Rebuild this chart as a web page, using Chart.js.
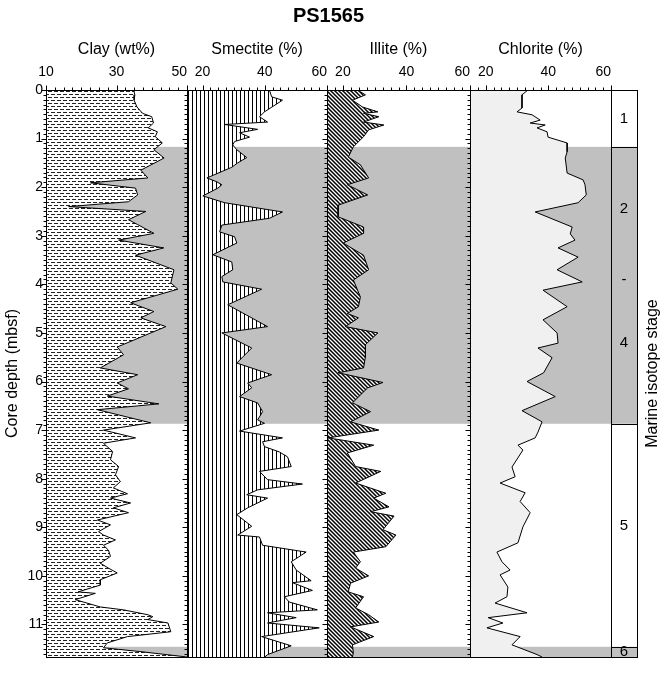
<!DOCTYPE html>
<html>
<head>
<meta charset="utf-8">
<title>PS1565</title>
<script src="https://cdn.jsdelivr.net/npm/chart.js"></script>
<style>
  body { margin: 0; background: #fff; }
  canvas { display: block; }
</style>
</head>
<body>
<canvas id="coreChart" width="670" height="685"></canvas>
<script>
// depth in mbsf
const depthMax = 11.67;

const clayDepth = [0, 0.1, 0.21, 0.35, 0.48, 0.55, 0.68, 0.78, 0.86, 0.96, 1.09, 1.23, 1.4, 1.65, 1.81, 1.91, 2.02, 2.16, 2.3, 2.4,
  2.5, 2.67, 2.77, 2.95, 3.09, 3.25, 3.4, 3.7, 3.97, 4.1, 4.38, 4.56, 4.69, 4.87, 5.29, 5.45, 5.72, 5.86, 6.03, 6.15,
  6.3, 6.46, 6.58, 6.85, 7.0, 7.16, 7.27, 7.44, 7.61, 7.75, 7.92, 8.06, 8.19, 8.31, 8.4, 8.5, 8.6, 8.7, 8.85, 8.95,
  9.09, 9.16, 9.26, 9.37, 9.47, 9.6, 9.74, 9.84, 9.94, 10.08, 10.19, 10.33, 10.36, 10.49, 10.64, 10.7, 10.8, 10.84, 10.9, 10.97,
  11.15, 11.25, 11.38, 11.48, 11.56, 11.67];
const clayPct = [34.9, 35.2, 35, 35.8, 37.4, 40, 40.5, 39, 41.6, 41, 43, 40.6, 43.5, 36.9, 38.9, 22.6, 35.4, 36, 33.4, 16.4,
  38.3, 33.4, 36, 40.6, 30.6, 43.4, 35.4, 46.3, 45.4, 47.4, 34, 40.6, 36.9, 44, 30.2, 32, 25.4, 36, 30.2, 33.4,
  27.4, 42, 24.6, 39.7, 26.3, 35.4, 26.3, 28.9, 28.3, 30.6, 29.7, 31.1, 29.1, 33.1, 28.3, 34, 29.1, 33.4, 24.6, 28.3,
  24.9, 26.3, 29.7, 26.3, 27.7, 28.3, 25.4, 27.7, 30.2, 25.4, 25.4, 19.1, 24, 18.3, 25.4, 32, 38.9, 40.3, 38.9, 44.6,
  45.4, 33.1, 27.4, 26.3, 36.9, 50];

const smecDepth = [0, 0.14, 0.21, 0.45, 0.55, 0.66, 0.71, 0.81, 0.88, 0.97, 1.06, 1.13, 1.23, 1.39, 1.5, 1.59, 1.81, 1.89, 1.95, 2.02,
  2.18, 2.32, 2.51, 2.64, 2.78, 2.92, 3.02, 3.15, 3.39, 3.54, 3.7, 3.84, 3.95, 4.1, 4.42, 4.87, 5.0, 5.31, 5.62, 5.86,
  6.03, 6.13, 6.31, 6.44, 6.62, 6.79, 6.86, 7.02, 7.16, 7.24, 7.34, 7.45, 7.55, 7.75, 7.85, 8.02, 8.11, 8.23, 8.33, 8.4,
  8.6, 8.74, 8.98, 9.16, 9.2, 9.37, 9.51, 9.71, 9.88, 10.1, 10.14, 10.3, 10.43, 10.54, 10.7, 10.76, 10.86, 10.97, 11.07, 11.25,
  11.44, 11.62, 11.67];
const smecPct = [41.5, 42.2, 45.7, 39.9, 38.3, 40.9, 27.1, 37.7, 31.9, 35.1, 30.3, 29.7, 31, 34.2, 31.3, 29.4, 21.4, 24.6, 26.2, 24.9,
  20.1, 27.1, 45.7, 41.5, 26.2, 25.5, 30.3, 31, 23.3, 29.4, 29.7, 26.2, 26.5, 39, 28.1, 40.9, 26.2, 35.8, 31, 42.2,
  34.5, 35.8, 31.9, 37.7, 39.3, 37.7, 39.9, 31.9, 45.7, 39.3, 39.9, 44.7, 47.3, 48.5, 38.3, 40.9, 52.1, 37.7, 34.2, 40.9,
  34.5, 31, 35.8, 31.3, 38.3, 39.3, 53.3, 48.5, 50.1, 54.9, 48.9, 55.3, 46.3, 47.9, 56.9, 40.9, 50.1, 40.9, 57.5, 39,
  48.5, 40.9, 40];

const illiteDepth = [0, 0.1, 0.21, 0.35, 0.45, 0.48, 0.55, 0.66, 0.72, 0.82, 0.96, 1.17, 1.38, 1.54, 1.81, 1.95, 2.16, 2.37, 2.61, 2.82,
  2.95, 3.15, 3.4, 3.7, 3.91, 4.26, 4.46, 4.6, 4.69, 4.87, 5.0, 5.24, 5.49, 5.72, 5.82, 6.02, 6.13, 6.44, 6.62, 6.83,
  7.0, 7.16, 7.31, 7.47, 7.75, 7.85, 8.09, 8.3, 8.4, 8.58, 8.68, 8.77, 9.05, 9.16, 9.4, 9.51, 9.71, 9.84, 10.0, 10.15,
  10.33, 10.43, 10.66, 10.8, 10.95, 11.05, 11.25, 11.42, 11.58, 11.67];
const illitePct = [24.6, 27.1, 23, 26.2, 31, 26.5, 31.3, 26.5, 32.9, 28.1, 26.5, 23.3, 21.7, 25.5, 28.1, 21.4, 27.8, 18.5, 18.5, 26.5,
  26.5, 20.1, 26.5, 28.1, 23.3, 25.5, 24.9, 21.4, 24.9, 20.8, 31, 27.1, 27.1, 26.5, 18.5, 32.6, 27.8, 23, 28.7, 22.4,
  31.3, 15.3, 29.7, 21.4, 24, 31.9, 24, 33.5, 29.7, 34.5, 28.7, 36.1, 32.6, 36.7, 33.5, 23.3, 25.5, 24, 28.1, 22.4,
  21.7, 26.5, 24, 28.1, 31.3, 22.4, 29.7, 23, 23.3, 23];

const chlDepth = [0, 0.1, 0.37, 0.45, 0.51, 0.62, 0.68, 0.72, 0.78, 0.86, 0.97, 1.09, 1.27, 1.4, 1.71, 1.85, 1.95, 2.16, 2.32, 2.51,
  2.82, 2.96, 3.09, 3.25, 3.44, 3.7, 3.95, 4.12, 4.46, 4.73, 5.0, 5.21, 5.31, 5.51, 5.82, 6.0, 6.31, 6.6, 6.83, 7.04,
  7.16, 7.31, 7.41, 7.76, 7.96, 8.09, 8.29, 8.47, 8.7, 8.99, 9.32, 9.51, 9.71, 9.88, 9.98, 10.23, 10.43, 10.56, 10.76, 10.86,
  10.97, 11.07, 11.25, 11.42, 11.62, 11.67];
const chlPct = [33.5, 31.6, 31.6, 30, 34.8, 37.4, 34.2, 39, 36.4, 39.6, 39.9, 46, 46, 45.4, 46, 51.1, 51.7, 52.1, 49.5, 35.8,
  47.6, 47, 48.5, 43.1, 49.5, 42.8, 50.8, 38.3, 46, 38.3, 42.8, 43.1, 36.7, 41.2, 38.5, 33.2, 42.2, 31.6, 38, 36.7,
  35.8, 30.3, 31.9, 28.4, 29.4, 24.6, 32.6, 31, 34.2, 31.9, 30.3, 23.6, 25.2, 27.8, 24.6, 27.1, 26.8, 23, 33.2, 20.8,
  25.5, 20.4, 31, 28.4, 36.4, 38];

const depthTicks = [0, 1, 2, 3, 4, 5, 6, 7, 8, 9, 10, 11];
const clayTicks = [10, 30, 50];
const mineralTicks = [20, 40, 60];

const stageNames = ['1', '2', '-', '4', '5', '6'];
const stageNameDepth = [0.585, 2.45, 3.9, 5.2, 8.97, 11.56];
const stageBounds = [1.17, 6.87, 11.46];
const grayBands = [[1.17, 6.87], [11.46, 11.67]];

const FONT = "'Liberation Sans', Arial, Helvetica, sans-serif";
const canvas = document.getElementById('coreChart');
const ctx = canvas.getContext('2d');

function makePattern(w, h, draw) {
  const c = document.createElement('canvas');
  c.width = w;
  c.height = h;
  const g = c.getContext('2d');
  g.fillStyle = '#fff';
  g.fillRect(0, 0, w, h);
  draw(g);
  return ctx.createPattern(c, 'repeat');
}

// clay: staggered dashes
const clayFill = makePattern(6, 6, g => {
  g.fillStyle = '#222';
  g.fillRect(0, 1, 4, 1);
  g.fillRect(3, 4, 3, 1);
  g.fillRect(0, 4, 1, 1);
});
// smectite: vertical lines
const smecFill = makePattern(4, 4, g => {
  g.fillStyle = '#000';
  g.fillRect(0, 0, 1, 4);
});
// illite: diagonal hatch
const illiteFill = makePattern(4, 4, g => {
  g.strokeStyle = '#000';
  g.lineWidth = 1.5;
  g.beginPath();
  g.moveTo(-1, -1); g.lineTo(5, 5);
  g.moveTo(-1, 3); g.lineTo(1, 5);
  g.moveTo(3, -1); g.lineTo(5, 1);
  g.stroke();
});

function toPoints(depths, values) {
  return depths.map((d, i) => ({ x: values[i], y: d }));
}

// fill from the curve back to the left edge (axis minimum) of its panel
function curve(depths, values, axisId, axisMin, fill) {
  return {
    data: toPoints(depths, values),
    xAxisID: axisId,
    yAxisID: 'y',
    borderColor: '#000',
    borderWidth: 1,
    pointRadius: 0,
    tension: 0,
    fill: { value: axisMin },
    backgroundColor: fill
  };
}

function panelAxis(min, max, weight, tickVals, title) {
  return {
    type: 'linear',
    position: 'top',
    stack: 'panels',
    stackWeight: weight,
    min: min,
    max: max,
    // a blank tick at the panel's left edge takes the 'inner' left alignment,
    // so only the last label is pushed inside the panel
    afterBuildTicks: s => {
      s.ticks = [{ value: min }].concat(tickVals.map(v => ({ value: v })));
    },
    ticks: {
      display: tickVals.length > 0,
      font: { family: FONT, size: 14 },
      color: '#000',
      padding: 4,
      align: 'inner',
      maxRotation: 0,
      autoSkip: false,
      callback: (v, i) => (i === 0 ? '' : String(v))
    },
    grid: { display: false, drawTicks: true, tickLength: 5 },
    border: { display: false },
    title: {
      display: !!title,
      text: title || '',
      font: { family: FONT, size: 16 },
      color: '#000',
      padding: { top: 2, bottom: 0 }
    },
    afterFit: s => { s.height = 52; }
  };
}

const panelIds = ['xClay', 'xSmec', 'xIllite', 'xChl'];

const framePlugin = {
  id: 'coreFrame',
  beforeDatasetsDraw(chart) {
    const { ctx: c, chartArea: a, scales } = chart;
    c.save();
    c.fillStyle = '#c0c0c0';
    grayBands.forEach(b => {
      const t = scales.y.getPixelForValue(b[0]);
      const btm = scales.y.getPixelForValue(b[1]);
      c.fillRect(a.left, t, a.right - a.left, btm - t);
    });
    c.restore();
  },
  afterDatasetsDraw(chart) {
    const { ctx: c, chartArea: a, scales } = chart;
    const y = scales.y;
    const top = Math.round(a.top) + 0.5;
    const bottom = Math.round(a.bottom) + 0.5;
    c.save();
    c.strokeStyle = '#000';
    c.lineWidth = 1;

    // panel frames
    panelIds.concat(['xStage']).forEach(id => {
      const s = scales[id];
      const l = Math.round(s.left) + 0.5;
      const r = Math.round(s.right) + 0.5;
      c.strokeRect(l, top, r - l, bottom - top);
    });

    // stage boundaries
    const st = scales.xStage;
    c.beginPath();
    stageBounds.forEach(d => {
      const py = Math.round(y.getPixelForValue(d)) + 0.5;
      c.moveTo(st.left, py);
      c.lineTo(st.right, py);
    });
    c.stroke();

    // depth ticks on the left side of every panel
    c.beginPath();
    panelIds.forEach(id => {
      const px = Math.round(scales[id].left) + 0.5;
      for (let i = 0; i <= Math.floor(depthMax * 10); i++) {
        const py = Math.round(y.getPixelForValue(i / 10)) + 0.5;
        const len = i % 10 === 0 ? 5 : 3;
        c.moveTo(px - len, py);
        c.lineTo(px, py);
      }
    });
    // top ticks, minor every 2.5
    panelIds.forEach(id => {
      const s = scales[id];
      const major = id === 'xClay' ? clayTicks : mineralTicks;
      for (let v = s.min; v <= s.max + 1e-6; v += 2.5) {
        const px = Math.round(s.getPixelForValue(v)) + 0.5;
        const len = major.includes(v) ? 5 : 3;
        c.moveTo(px, top - len);
        c.lineTo(px, top);
      }
    });
    c.stroke();

    // stage numbers
    c.fillStyle = '#000';
    c.textAlign = 'center';
    c.textBaseline = 'middle';
    c.font = '15px ' + FONT;
    const sx = (st.left + st.right) / 2;
    stageNames.forEach((n, i) => {
      c.fillText(n, sx, y.getPixelForValue(stageNameDepth[i]));
    });

    // right title
    c.font = '16px ' + FONT;
    c.translate(653, (a.top + a.bottom) / 2);
    c.rotate(-Math.PI / 2);
    c.fillText('Marine isotope stage', 0, 0);
    c.setTransform(1, 0, 0, 1, 0, 0);

    // main title
    c.font = 'bold 20px ' + FONT;
    c.fillText('PS1565', (scales.xClay.left + scales.xChl.right) / 2, 16);
    c.restore();
  }
};

new Chart(ctx, {
  type: 'line',
  data: {
    datasets: [
      curve(clayDepth, clayPct, 'xClay', 10, clayFill),
      curve(smecDepth, smecPct, 'xSmec', 15, smecFill),
      curve(illiteDepth, illitePct, 'xIllite', 15, illiteFill),
      curve(chlDepth, chlPct, 'xChl', 15, '#f0f0f0')
    ]
  },
  options: {
    responsive: false,
    animation: false,
    indexAxis: 'y',
    events: [],
    layout: { padding: { top: 38, right: 33, bottom: 28, left: 0 } },
    plugins: {
      legend: { display: false },
      tooltip: { enabled: false },
      title: { display: false }
    },
    scales: {
      y: {
        type: 'linear',
        reverse: true,
        min: 0,
        max: depthMax,
        afterBuildTicks: s => { s.ticks = depthTicks.map(v => ({ value: v })); },
        ticks: { font: { family: FONT, size: 14 }, color: '#000', padding: 0, callback: v => String(v) },
        grid: { display: false, drawTicks: true, tickLength: 3 },
        border: { display: false },
        title: {
          display: true,
          text: 'Core depth (mbsf)',
          font: { family: FONT, size: 16 },
          color: '#000',
          padding: { top: 3, bottom: 0 }
        },
        afterFit: s => { s.width = 46; }
      },
      // top boxes are laid out in reverse order, so the rightmost column comes first
      xStage: panelAxis(0, 1, 26, [], ''),
      xChl: panelAxis(15, 60, 141, mineralTicks, 'Chlorite (%)'),
      xIllite: panelAxis(15, 60, 143, mineralTicks, 'Illite (%)'),
      xSmec: panelAxis(15, 60, 140, mineralTicks, 'Smectite (%)'),
      xClay: panelAxis(10, 50, 141, clayTicks, 'Clay (wt%)')
    }
  },
  plugins: [framePlugin]
});
</script>
</body>
</html>
